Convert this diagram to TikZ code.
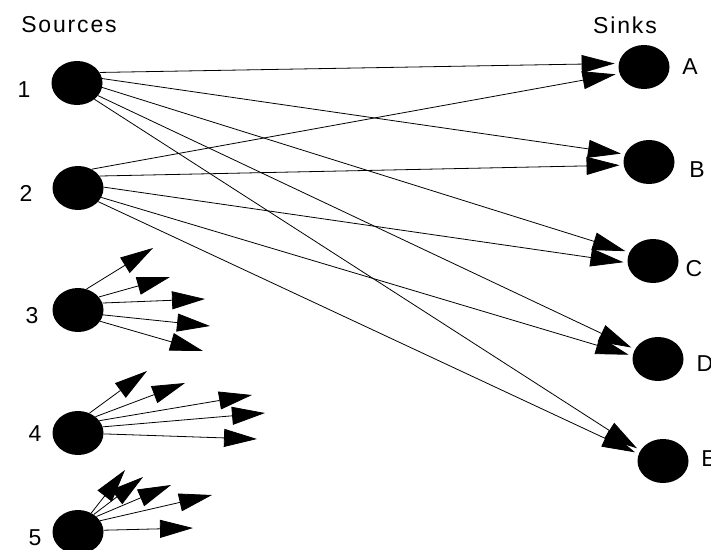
\documentclass[tikz,border=0pt]{standalone}
\usepackage{fontspec}
\setmainfont{Liberation Sans}[LetterSpace=8]
\usetikzlibrary{arrows.meta,shapes.geometric}
\begin{document}
\begin{tikzpicture}[x=1pt,y=-1pt,
  dot/.style={ellipse,fill=black,draw=none,minimum width=51pt,minimum height=44pt,inner sep=0pt},
  lbl/.style={font=\fontsize{23}{27}\selectfont,inner sep=0pt},
  arr/.style={line width=0.8pt,-{Triangle[length=33pt,width=18pt]}},
  link/.style={arr,shorten >=4pt}]
\useasboundingbox (0,0) rectangle (711,549);
\clip (0,0) rectangle (711,549);
% titles
\node[lbl] (src) at (69,25) {Sources};
\node[lbl] (snk) at (625,25) {Sinks};
% sources
\node[dot] (s1) at (77,83) {};
\node[dot] (s2) at (78,188) {};
\node[dot] (s3) at (78,310) {};
\node[dot] (s4) at (78,433) {};
\node[dot] (s5) at (78,532) {};
\node[lbl] (l1) at (24,90) {1};
\node[lbl] (l2) at (26,193) {2};
\node[lbl] (l3) at (32,316) {3};
\node[lbl] (l4) at (35,434) {4};
\node[lbl] (l5) at (35,538) {5};
% sinks
\node[dot] (A) at (644,67) {};
\node[dot] (B) at (649,162) {};
\node[dot] (C) at (653,261) {};
\node[dot] (D) at (658,359) {};
\node[dot] (E) at (663,461) {};
\node[lbl] (lA) at (690,67) {A};
\node[lbl] (lB) at (697,170) {B};
\node[lbl] (lC) at (694,269) {C};
\node[lbl] (lD) at (705,364) {D};
\node[lbl] (lE) at (709,459) {E};
% source 1 to sinks
\draw[link] (s1.25) -- (A.172);
\draw[link] (s1.10) -- (B.162);
\draw[link] (s1.-10) -- (C.160);
\draw[link] (s1.-31) -- (D.157);
\draw[link] (s1.-43) -- (E.155);
% source 2 to sinks
\draw[link] (s2.54) -- (A.195);
\draw[link] (s2.29) -- (B.187);
\draw[link] (s2.2) -- (C.184);
\draw[link] (s2.-22) -- (D.173);
\draw[link] (s2.-34) -- (E.164);
% source 3 fan
\coordinate (t31) at (153,248);
\coordinate (t32) at (170,277);
\coordinate (t33) at (205,299);
\coordinate (t34) at (210,326);
\coordinate (t35) at (203,351);
\draw[arr] (s3.68) -- (t31);
\draw[arr] (s3.32) -- (t32);
\draw[arr] (s3.16) -- (t33);
\draw[arr] (s3.-11) -- (t34);
\draw[arr] (s3.-27) -- (t35);
% source 4 fan
\coordinate (t41) at (147,371);
\coordinate (t42) at (185,383);
\coordinate (t43) at (252,395);
\coordinate (t44) at (265,413);
\coordinate (t45) at (257,439);
\draw[arr] (s4.60) -- (t41);
\draw[arr] (s4.43) -- (t42);
\draw[arr] (s4.30) -- (t43);
\draw[arr] (s4.14) -- (t44);
\draw[arr] (s4.-2) -- (t45);
% source 5 fan
\coordinate (t51) at (125,470);
\coordinate (t52) at (143,477);
\coordinate (t53) at (171,485);
\coordinate (t54) at (212,495);
\coordinate (t55) at (193,528);
\draw[arr] (s5.55) -- (t51);
\draw[arr] (s5.48) -- (t52);
\draw[arr] (s5.40) -- (t53);
\draw[arr] (s5.27) -- (t54);
\draw[arr] (s5.4) -- (t55);
\end{tikzpicture}
\end{document}
